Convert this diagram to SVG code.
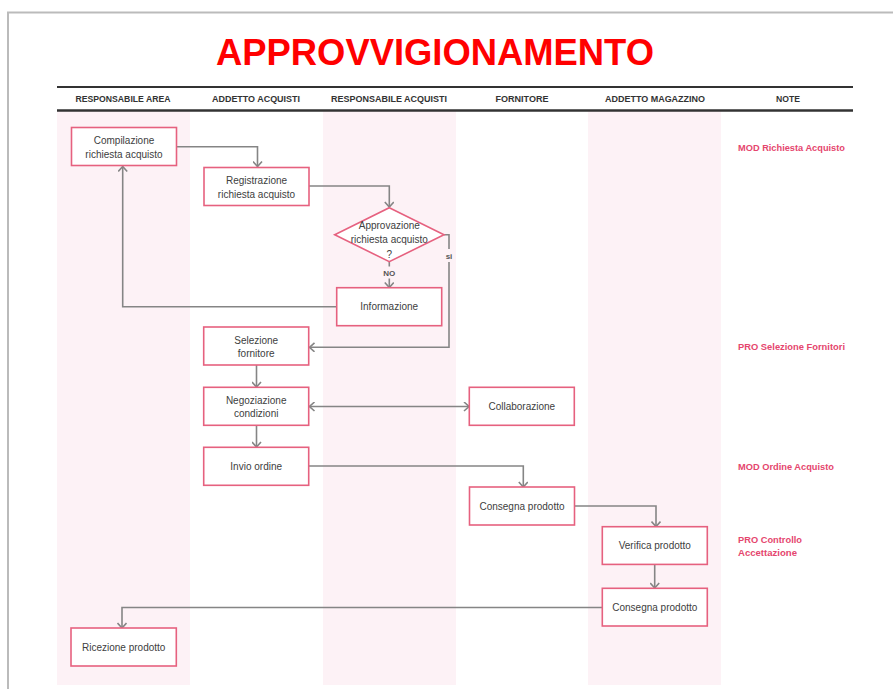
<svg xmlns="http://www.w3.org/2000/svg" width="893" height="689" viewBox="0 0 893 689">
<defs>
<style>
.lane{fill:#FDF2F6;}
.hdr{font-family:"Liberation Sans",Arial,sans-serif;font-weight:bold;font-size:8.5px;fill:#333;text-anchor:middle;}
.box{fill:#fff;stroke:#E6617F;stroke-width:1.6;}
.t{font-family:"Liberation Sans",Arial,sans-serif;font-size:10px;fill:#404040;text-anchor:middle;}
.note{font-family:"Liberation Sans",Arial,sans-serif;font-weight:bold;font-size:9.5px;fill:#E5466E;}
.c{fill:none;stroke:#858585;stroke-width:1.6;}
.lbl{font-family:"Liberation Sans",Arial,sans-serif;font-weight:bold;font-size:8px;fill:#555;text-anchor:middle;}
</style>
<marker id="arr" viewBox="0 0 10 10" refX="9" refY="5" markerWidth="10" markerHeight="10" markerUnits="userSpaceOnUse" orient="auto-start-reverse">
<path d="M4,0.5 L9,5 L4,9.5" fill="none" stroke="#858585" stroke-width="1.6"/>
</marker>
</defs>
<rect x="0" y="0" width="893" height="689" fill="#fff"/>
<!-- page border -->
<path d="M8,689 V12.5 H893" fill="none" stroke="#BBBBBB" stroke-width="2"/>
<!-- lanes -->
<rect class="lane" x="57" y="111" width="133" height="574"/>
<rect class="lane" x="323" y="111" width="133" height="574"/>
<rect class="lane" x="588" y="111" width="133" height="574"/>
<!-- title -->
<text x="435" y="65" font-family="'Liberation Sans',Arial,sans-serif" font-weight="bold" font-size="37" fill="#FF0000" text-anchor="middle" textLength="438" lengthAdjust="spacingAndGlyphs">APPROVVIGIONAMENTO</text>
<!-- header -->
<line x1="57" y1="87" x2="853" y2="87" stroke="#333" stroke-width="2"/>
<line x1="57" y1="110.5" x2="853" y2="110.5" stroke="#333" stroke-width="2.5"/>
<g id="header">
<text class="hdr" x="123" y="102" textLength="95" lengthAdjust="spacingAndGlyphs">RESPONSABILE AREA</text>
<text class="hdr" x="256" y="102" textLength="88" lengthAdjust="spacingAndGlyphs">ADDETTO ACQUISTI</text>
<text class="hdr" x="389" y="102" textLength="116" lengthAdjust="spacingAndGlyphs">RESPONSABILE  ACQUISTI</text>
<text class="hdr" x="522" y="102" textLength="53" lengthAdjust="spacingAndGlyphs">FORNITORE</text>
<text class="hdr" x="655" y="102" textLength="100" lengthAdjust="spacingAndGlyphs">ADDETTO MAGAZZINO</text>
<text class="hdr" x="788" y="102" textLength="24" lengthAdjust="spacingAndGlyphs">NOTE</text>
</g>
<!-- connectors -->
<g id="connectors">
<path class="c" d="M177,146.7 H257.5 V166.5" marker-end="url(#arr)"/>
<path class="c" d="M309,186 H389.3 V207" marker-end="url(#arr)"/>
<path class="c" d="M389.3,262 V266.5"/>
<path class="c" d="M389.3,278.5 V287.5" marker-end="url(#arr)"/>
<path class="c" d="M336.7,306.7 H122.7 V166.5" marker-end="url(#arr)"/>
<path class="c" d="M444,234.7 H449 V249"/>
<path class="c" d="M449,262 V347.3 H309.5" marker-end="url(#arr)"/>
<path class="c" d="M256.5,365 V387" marker-end="url(#arr)"/>
<path class="c" d="M256.5,425 V447" marker-end="url(#arr)"/>
<path class="c" d="M309.5,406.5 H469" marker-start="url(#arr)" marker-end="url(#arr)"/>
<path class="c" d="M309,466 H523.3 V487" marker-end="url(#arr)"/>
<path class="c" d="M574.3,506 H656 V526.5" marker-end="url(#arr)"/>
<path class="c" d="M654.7,564.3 V588" marker-end="url(#arr)"/>
<path class="c" d="M602.3,607.5 H122 V628" marker-end="url(#arr)"/>
<text class="lbl" x="389.3" y="276">NO</text>
<text class="lbl" x="449" y="258.5">si</text>
</g>
<!-- nodes -->
<g id="n-compilazione">
<rect class="box" x="71.5" y="127.5" width="105" height="38"/>
<text class="t" x="124" y="144">Compilazione</text>
<text class="t" x="124" y="158">richiesta acquisto</text>
</g>
<g id="n-registrazione">
<rect class="box" x="204" y="167.5" width="105" height="38"/>
<text class="t" x="256.5" y="184">Registrazione</text>
<text class="t" x="256.5" y="198">richiesta acquisto</text>
</g>
<g id="n-approvazione">
<polygon class="box" points="389.3,207.7 444,234.7 389.3,261.7 334.7,234.7"/>
<text class="t" x="389.3" y="228.8">Approvazione</text>
<text class="t" x="389.3" y="242.8">richiesta acquisto</text>
<text class="t" x="389.3" y="257.5">?</text>
</g>
<g id="n-informazione">
<rect class="box" x="336.7" y="287.7" width="105" height="38"/>
<text class="t" x="389.2" y="310.2">Informazione</text>
</g>
<g id="n-selezione">
<rect class="box" x="203.7" y="327" width="105" height="38"/>
<text class="t" x="256.2" y="343.5">Selezione</text>
<text class="t" x="256.2" y="356.5">fornitore</text>
</g>
<g id="n-negoziazione">
<rect class="box" x="203.7" y="387.3" width="105" height="38"/>
<text class="t" x="256.2" y="404">Negoziazione</text>
<text class="t" x="256.2" y="417">condizioni</text>
</g>
<g id="n-invio">
<rect class="box" x="203.7" y="447.3" width="105" height="38"/>
<text class="t" x="256.2" y="470">Invio ordine</text>
</g>
<g id="n-collaborazione">
<rect class="box" x="469.3" y="387.3" width="105" height="38"/>
<text class="t" x="521.8" y="410">Collaborazione</text>
</g>
<g id="n-consegna1">
<rect class="box" x="469.5" y="487" width="105" height="38"/>
<text class="t" x="522" y="509.8">Consegna prodotto</text>
</g>
<g id="n-verifica">
<rect class="box" x="602.3" y="526.7" width="105" height="37.7"/>
<text class="t" x="654.8" y="549.2">Verifica prodotto</text>
</g>
<g id="n-consegna2">
<rect class="box" x="602.3" y="588.3" width="105" height="37.7"/>
<text class="t" x="654.8" y="611">Consegna prodotto</text>
</g>
<g id="n-ricezione">
<rect class="box" x="71" y="628" width="105.3" height="38"/>
<text class="t" x="123.7" y="651">Ricezione prodotto</text>
</g>
<!-- notes -->
<g id="notes">
<text class="note" x="738" y="151.3" textLength="107" lengthAdjust="spacingAndGlyphs">MOD Richiesta Acquisto</text>
<text class="note" x="738" y="350" textLength="107" lengthAdjust="spacingAndGlyphs">PRO Selezione Fornitori</text>
<text class="note" x="738" y="470.3" textLength="96" lengthAdjust="spacingAndGlyphs">MOD Ordine Acquisto</text>
<text class="note" x="738" y="542.6" textLength="64" lengthAdjust="spacingAndGlyphs">PRO Controllo</text>
<text class="note" x="738" y="555.6" textLength="59" lengthAdjust="spacingAndGlyphs">Accettazione</text>
</g>
</svg>
